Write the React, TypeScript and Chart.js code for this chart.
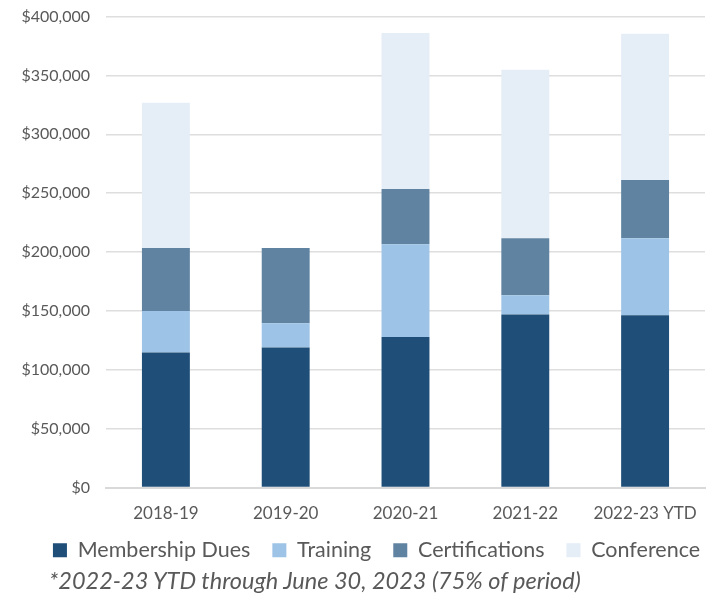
import React, { useEffect, useRef } from "react";
import { Chart, registerables } from "chart.js";

Chart.register(...registerables);

const categories = ["2018-19", "2019-20", "2020-21", "2021-22", "2022-23 YTD"];
const membershipDues = [114600, 118900, 127900, 147000, 146400];
const training = [35400, 20700, 78700, 16400, 65300];
const certifications = [53400, 63800, 47000, 48300, 49600];
const conference = [123400, 0, 132500, 143200, 124200];
const footnote = "*2022-23 YTD through June 30, 2023 (75% of period)";

const FONT = "Lato, 'Open Sans', sans-serif";
const TEXT = "#595959";

const legendShift = {
  id: "legendShift",
  afterLayout(chart: any) {
    if (chart.legend) {
      chart.legend.left += 20;
      chart.legend.right += 20;
      chart.legend.top -= 8;
      chart.legend.bottom -= 8;
    }
  },
};

export default function App() {
  const ref = useRef<HTMLCanvasElement | null>(null);
  useEffect(() => {
    if (!ref.current) return;
    const chart = new Chart(ref.current, {
      type: "bar",
      data: {
        labels: categories,
        datasets: [
          { label: "Membership Dues", data: membershipDues, backgroundColor: "#1F4E79" },
          { label: "Training", data: training, backgroundColor: "#9DC3E6" },
          { label: "Certifications", data: certifications, backgroundColor: "#6083A2" },
          { label: "Conference", data: conference, backgroundColor: "#E5EDF7" },
        ],
      },
      plugins: [legendShift],
      options: {
        animation: false,
        responsive: true,
        maintainAspectRatio: false,
        layout: { padding: { top: 0, right: 12, left: 0, bottom: 0 } },
        datasets: { bar: { barPercentage: 0.4, categoryPercentage: 1 } },
        plugins: {
          tooltip: { enabled: false },
          legend: {
            position: "bottom",
            labels: {
              boxWidth: 14,
              boxHeight: 14,
              padding: 22,
              color: TEXT,
              font: { family: FONT, size: 21.5 },
            },
          },
        },
        scales: {
          x: {
            stacked: true,
            afterFit: (s: any) => { s.height = 38; },
            grid: { display: false, drawTicks: false },
            border: { display: true, color: "#D9D9D9", width: 2 },
            ticks: { color: TEXT, font: { family: FONT, size: 17 }, padding: 16 },
          },
          y: {
            stacked: true,
            min: 0,
            max: 400000,
            afterFit: (s: any) => { s.width = 98; },
            grid: { color: "#DEDEDE", lineWidth: 1.5, drawTicks: false },
            border: { display: false },
            ticks: {
              stepSize: 50000,
              padding: 16,
              color: TEXT,
              font: { family: FONT, size: 16 },
              callback: (v: any) => "$" + Number(v).toLocaleString("en-US"),
            },
          },
        },
      },
    });
    return () => chart.destroy();
  }, []);
  return (
    <div style={{ position: "relative", width: 709, height: 590 }}>
      <div style={{ position: "absolute", left: 0, top: -17, width: 709, height: 588 }}>
        <canvas ref={ref} />
      </div>
      <div
        style={{
          position: "absolute",
          left: 41,
          top: 560,
          fontFamily: FONT,
          fontStyle: "italic",
          fontSize: 23.5,
          color: TEXT,
          lineHeight: "24px",
          whiteSpace: "nowrap",
        }}
      >
        {footnote}
      </div>
    </div>
  );
}
